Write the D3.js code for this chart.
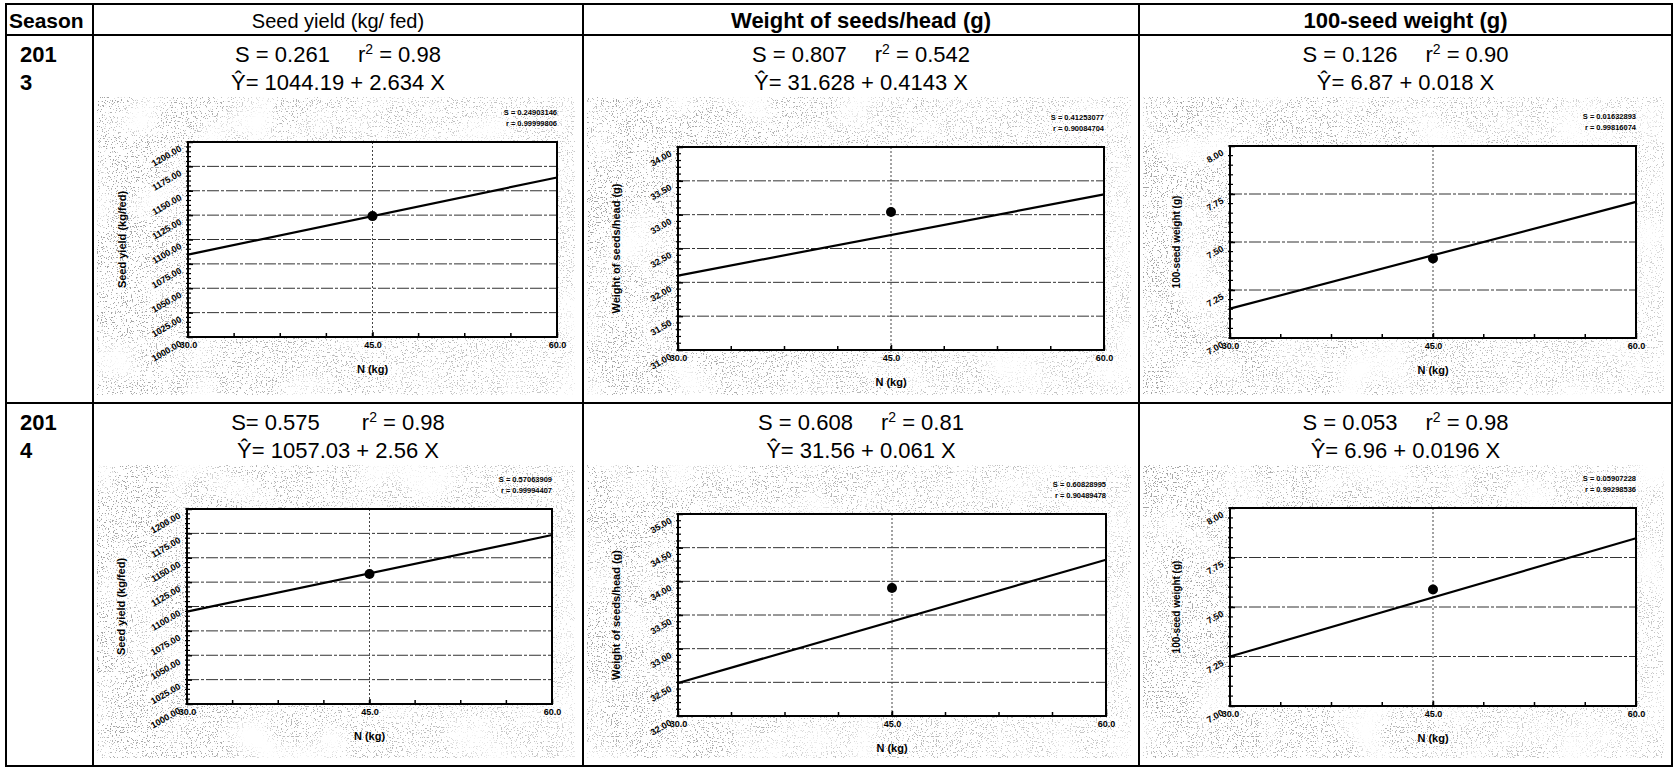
<!DOCTYPE html>
<html>
<head>
<meta charset="utf-8">
<script src="https://cdn.jsdelivr.net/npm/d3@7"></script>
<style>
  body { margin: 0; background: #fff; }
  svg { display: block; font-family: "Liberation Sans", Arial, sans-serif; }
  .cell-txt { font-size: 22px; fill: #000; }
  .tick text { font-size: 9px; font-weight: bold; fill: #000; }
  .ax-title { font-size: 11px; font-weight: bold; }
  .fit-note { font-size: 7.5px; font-weight: bold; }
</style>
</head>
<body>
<svg id="chart" width="1675" height="768"></svg>
<script>
// ---- data ----
const seasonLabels = [["201", "3"], ["201", "4"]];
const traitTitles = ["Seed yield (kg/ fed)", "Weight of seeds/head (g)", "100-seed weight (g)"];
const traitBold = [false, true, true];
const yAxisTitles = ["Seed yield (kg/fed)", "Weight of seeds/head (g)", "100-seed weight (g)"];

// panel order: 2013 (3 traits), then 2014 (3 traits)
const statS = ["S = 0.261", "S = 0.807", "S = 0.126", "S= 0.575", "S = 0.608", "S = 0.053"];
const statR2 = ["0.98", "0.542", "0.90", "0.98", "0.81", "0.98"];
const equations = ["Ŷ= 1044.19 + 2.634 X", "Ŷ= 31.628 + 0.4143 X", "Ŷ= 6.87 + 0.018 X",
                   "Ŷ= 1057.03 + 2.56 X", "Ŷ= 31.56 + 0.061 X", "Ŷ= 6.96 + 0.0196 X"];
const fitNoteS = ["S = 0.24903146", "S = 0.41253077", "S = 0.01632893",
                  "S = 0.57063909", "S = 0.60828995", "S = 0.05907228"];
const fitNoteR = ["r = 0.99999806", "r = 0.90084704", "r = 0.99816074",
                  "r = 0.99994407", "r = 0.90489478", "r = 0.99298536"];

const nLevels = [30, 45, 60];
const yDomains = [[1000, 1200], [31, 34], [7, 8], [1000, 1200], [32, 35], [7, 8]];
const yStep = [25, 0.5, 0.25, 25, 0.5, 0.25];
const fitAt30 = [1084.5, 32.10, 7.153, 1094.7, 32.49, 7.25];
const fitAt60 = [1163.6, 33.30, 7.709, 1173.3, 34.32, 7.847];
const meanAt45 = [1124.0, 33.04, 7.414, 1133.3, 33.90, 7.588];

// ---- layout ----
const colX = [6, 93, 583, 1139, 1672];
const rowY = [4, 35, 403, 766];
const plots = [
  {x0: 188, x1: 557, y0: 142, y1: 337, tOff: 62},
  {x0: 678, x1: 1104, y0: 147, y1: 350, tOff: 58},
  {x0: 1230, x1: 1636, y0: 146, y1: 338, tOff: 50},
  {x0: 187, x1: 552, y0: 509, y1: 704, tOff: 62},
  {x0: 678, x1: 1106, y0: 514, y1: 716, tOff: 58},
  {x0: 1230, x1: 1636, y0: 508, y1: 706, tOff: 50}
];
const titleSize = [20, 22, 22];
const yTitleSize = [11, 11, 10];

const svg = d3.select('#chart');

// scanner speckle: fine dots, thinned out in cloudy patches
const defs = svg.append('defs');
const flt = defs.append('filter')
  .attr('id', 'speckle')
  .attr('x', 0).attr('y', 0).attr('width', 1).attr('height', 1);
flt.append('feTurbulence')
  .attr('type', 'fractalNoise').attr('baseFrequency', 0.8)
  .attr('numOctaves', 2).attr('seed', 11).attr('result', 'fine');
flt.append('feColorMatrix')
  .attr('in', 'fine').attr('type', 'matrix')
  .attr('values', '0 0 0 0 0.2  0 0 0 0 0.2  0 0 0 0 0.2  -22 0 0 0 8.3')
  .attr('result', 'dots');
flt.append('feTurbulence')
  .attr('type', 'fractalNoise').attr('baseFrequency', 0.018)
  .attr('numOctaves', 2).attr('seed', 4).attr('result', 'coarse');
flt.append('feColorMatrix')
  .attr('in', 'coarse').attr('type', 'matrix')
  .attr('values', '0 0 0 0 0  0 0 0 0 0  0 0 0 0 0  3 0 0 0 -0.6')
  .attr('result', 'cloud');
flt.append('feComposite')
  .attr('in', 'dots').attr('in2', 'cloud').attr('operator', 'in');

const grad = defs.append('linearGradient').attr('id', 'fade');
grad.append('stop').attr('offset', '0%').attr('stop-color', '#fff');
grad.append('stop').attr('offset', '30%').attr('stop-color', '#ddd');
grad.append('stop').attr('offset', '100%').attr('stop-color', '#999');
defs.append('mask').attr('id', 'fadeMask')
  .attr('maskContentUnits', 'objectBoundingBox')
  .append('rect').attr('width', 1).attr('height', 1).attr('fill', 'url(#fade)');

plots.forEach(function(p, i) {
  const row = Math.floor(i / 3), col = i % 3;
  svg.append('rect')
    .attr('x', colX[col + 1] + 4)
    .attr('y', rowY[row + 1] + 62)
    .attr('width', colX[col + 2] - colX[col + 1] - 12)
    .attr('height', rowY[row + 2] - rowY[row + 1] - 70)
    .attr('fill', '#fff')
    .attr('filter', 'url(#speckle)')
    .attr('mask', 'url(#fadeMask)')
    .attr('opacity', 0.7);
});

// table grid
const grid = svg.append('g').attr('stroke', '#000').attr('stroke-width', 2).attr('fill', 'none');
grid.append('rect')
  .attr('x', colX[0]).attr('y', rowY[0])
  .attr('width', colX[4] - colX[0]).attr('height', rowY[3] - rowY[0]);
colX.slice(1, 4).forEach(function(cx) {
  grid.append('line').attr('x1', cx).attr('x2', cx).attr('y1', rowY[0]).attr('y2', rowY[3]);
});
rowY.slice(1, 3).forEach(function(ry) {
  grid.append('line').attr('x1', colX[0]).attr('x2', colX[4]).attr('y1', ry).attr('y2', ry);
});

// header row
svg.append('text').attr('class', 'cell-txt')
  .attr('x', colX[0] + 3).attr('y', 28)
  .attr('font-weight', 'bold').style('font-size', '21px')
  .text('Season');
traitTitles.forEach(function(t, c) {
  svg.append('text').attr('class', 'cell-txt')
    .attr('x', (colX[c + 1] + colX[c + 2]) / 2).attr('y', 28)
    .attr('text-anchor', 'middle')
    .attr('font-weight', traitBold[c] ? 'bold' : 'normal')
    .style('font-size', titleSize[c] + 'px')
    .text(t);
});

// season labels
seasonLabels.forEach(function(lines, r) {
  lines.forEach(function(l, k) {
    svg.append('text').attr('class', 'cell-txt')
      .attr('x', colX[0] + 14).attr('y', rowY[r + 1] + 27 + k * 28)
      .attr('font-weight', 'bold')
      .text(l);
  });
});

// stats + equation lines
plots.forEach(function(p, i) {
  const row = Math.floor(i / 3), col = i % 3;
  const cx = (colX[col + 1] + colX[col + 2]) / 2;
  const ty = rowY[row + 1] + 27;
  const t = svg.append('text').attr('class', 'cell-txt')
    .attr('x', cx).attr('y', ty).attr('text-anchor', 'middle');
  t.append('tspan').text(statS[i]);
  t.append('tspan').attr('dx', row === 1 && col === 0 ? 42 : 28).text('r');
  t.append('tspan').attr('dy', -8).style('font-size', '14px').text('2');
  t.append('tspan').attr('dy', 8).text(' = ' + statR2[i]);
  svg.append('text').attr('class', 'cell-txt')
    .attr('x', cx).attr('y', ty + 28).attr('text-anchor', 'middle')
    .text(equations[i]);
});

// one small regression chart per cell
function drawPanel(p, i) {
  const x = d3.scaleLinear().domain([30, 60]).range([p.x0, p.x1]);
  const y = d3.scaleLinear().domain(yDomains[i]).range([p.y1, p.y0]);
  const lo = yDomains[i][0], step = yStep[i];
  const n = Math.round((yDomains[i][1] - lo) / step);
  const majors = d3.range(n + 1).map(k => lo + k * step);
  const minors = d3.range(n * 5 + 1).map(k => lo + k * step / 5);
  const xMinor = d3.range(9).map(k => 30 + k * 3.75);

  const g = svg.append('g').attr('class', 'panel panel_' + i);

  g.append('rect')
    .attr('x', p.x0).attr('y', p.y0)
    .attr('width', p.x1 - p.x0).attr('height', p.y1 - p.y0)
    .attr('fill', '#fff');

  // horizontal grid
  g.append('g').selectAll('line')
    .data(majors.slice(1, -1)).enter()
    .append('line')
    .attr('x1', p.x0).attr('x2', p.x1)
    .attr('y1', d => y(d)).attr('y2', d => y(d))
    .attr('stroke', '#333').attr('stroke-width', 1)
    .attr('stroke-dasharray', '12,2,3,2');

  // vertical grid at 45
  g.append('line')
    .attr('x1', x(45)).attr('x2', x(45))
    .attr('y1', p.y0).attr('y2', p.y1)
    .attr('stroke', '#444').attr('stroke-width', 1)
    .attr('stroke-dasharray', '2,2');

  // minor ticks
  g.append('g').selectAll('line')
    .data(minors).enter()
    .append('line')
    .attr('x1', p.x0 - 2).attr('x2', p.x0 + 3)
    .attr('y1', d => y(d)).attr('y2', d => y(d))
    .attr('stroke', '#000').attr('stroke-width', 1.2);
  g.append('g').selectAll('line')
    .data(xMinor).enter()
    .append('line')
    .attr('x1', d => x(d)).attr('x2', d => x(d))
    .attr('y1', p.y1).attr('y2', p.y1 - 4)
    .attr('stroke', '#000').attr('stroke-width', 1.5);

  // axes
  const yAx = g.append('g')
    .attr('transform', 'translate(' + p.x0 + ',0)')
    .call(d3.axisLeft(y).tickValues(majors).tickFormat(d3.format('.2f')).tickSize(-5).tickPadding(3));
  yAx.select('.domain').remove();
  yAx.selectAll('.tick line').attr('stroke-width', 1.5);
  yAx.selectAll('.tick text')
    .attr('x', -9).attr('dy', '0.45em')
    .attr('transform', 'rotate(-30)');

  const xAx = g.append('g')
    .attr('transform', 'translate(0,' + p.y1 + ')')
    .call(d3.axisBottom(x).tickValues(nLevels).tickFormat(d3.format('.1f')).tickSize(-5).tickPadding(5));
  xAx.select('.domain').remove();
  xAx.selectAll('.tick line').attr('stroke-width', 1.5);

  // frame
  g.append('rect')
    .attr('x', p.x0).attr('y', p.y0)
    .attr('width', p.x1 - p.x0).attr('height', p.y1 - p.y0)
    .attr('fill', 'none').attr('stroke', '#000').attr('stroke-width', 2);

  // fitted line and mean point
  const fit = d3.line().x(d => x(d[0])).y(d => y(d[1]));
  g.append('path')
    .datum([[30, fitAt30[i]], [60, fitAt60[i]]])
    .attr('d', fit)
    .attr('fill', 'none').attr('stroke', '#000').attr('stroke-width', 2.2);
  g.append('circle')
    .attr('cx', x(45)).attr('cy', y(meanAt45[i]))
    .attr('r', 5).attr('fill', '#000');

  // axis titles
  g.append('text').attr('class', 'ax-title')
    .attr('text-anchor', 'middle')
    .style('font-size', yTitleSize[i % 3] + 'px')
    .attr('transform', 'translate(' + (p.x0 - p.tOff) + ',' + ((p.y0 + p.y1) / 2) + ') rotate(-90)')
    .text(yAxisTitles[i % 3]);
  g.append('text').attr('class', 'ax-title')
    .attr('x', (p.x0 + p.x1) / 2).attr('y', p.y1 + 36)
    .attr('text-anchor', 'middle')
    .text('N (kg)');

  // fit note top-right
  g.append('text').attr('class', 'fit-note')
    .attr('x', p.x1).attr('y', p.y0 - 27).attr('text-anchor', 'end')
    .text(fitNoteS[i]);
  g.append('text').attr('class', 'fit-note')
    .attr('x', p.x1).attr('y', p.y0 - 16).attr('text-anchor', 'end')
    .text(fitNoteR[i]);
}

plots.forEach(drawPanel);
</script>
</body>
</html>
